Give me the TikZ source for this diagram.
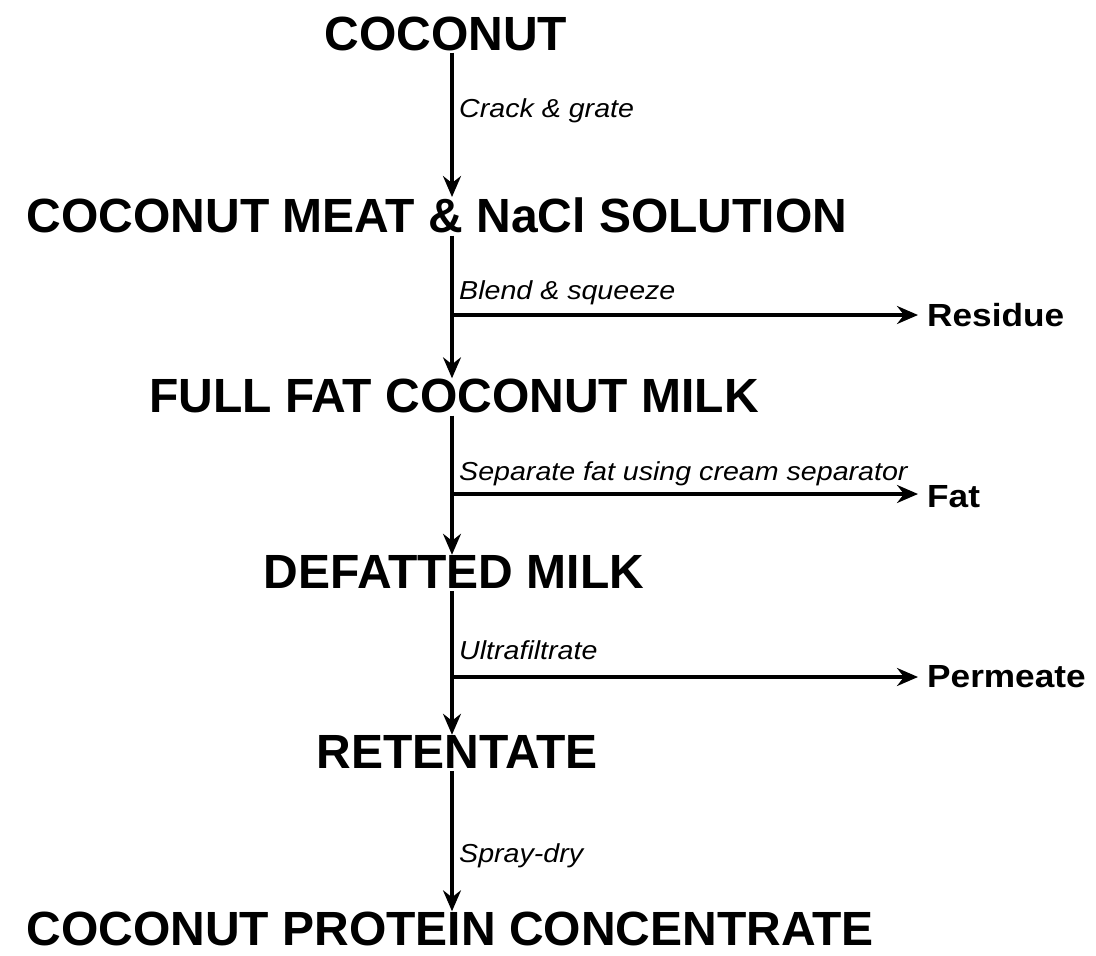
\documentclass[tikz,border=0pt]{standalone}
\usepackage{fontspec}
\setmainfont{Liberation Sans}
\newfontfamily\widefont[FakeStretch=1.1]{Liberation Sans}
\usetikzlibrary{arrows.meta, positioning}

\begin{document}
\begin{tikzpicture}[
  x=1pt, y=-1pt,
  node distance=3pt and 9pt,
  stage/.style={font={\fontsize{48}{50}\selectfont\bfseries}, inner sep=0pt, anchor=base},
  waste/.style={font={\widefont\fontsize{32}{34}\selectfont\bfseries}, inner sep=0pt},
  oper/.style={font={\widefont\fontsize{26}{28}\selectfont\itshape}, inner sep=0pt, anchor=base west},
  arr/.style={-{Stealth[length=21pt, width=18pt, inset=7pt]}, line width=3.2pt}
]
\useasboundingbox (0,0) rectangle (1096,956);

% spine of the chart
\coordinate (spine) at (452,0);

% Main stages, top to bottom
\node[stage] (coconut) at (446,50)  {COCONUT};
\node[stage] (meat)    at (437,232) {COCONUT MEAT \& NaCl SOLUTION};
\node[stage] (milk)    at (454,412) {FULL FAT COCONUT MILK};
\node[stage] (defat)   at (454,588) {DEFATTED MILK};
\node[stage] (retent)  at (457,768) {RETENTATE};
\node[stage] (cpc)     at (450,945) {COCONUT PROTEIN CONCENTRATE};

% Operations along the spine
\node[oper] (crack)  at (459,117) {Crack \& grate};
\node[oper] (blend)  at (459,299) {Blend \& squeeze};
\node[oper] (sep)    at (459,480) {Separate fat using cream separator};
\node[oper] (ultra)  at (459,659) {Ultrafiltrate};
\node[oper] (spray)  at (459,862) {Spray-dry};

% Side streams
\coordinate (br1) at (452,315);
\coordinate (br2) at (452,494);
\coordinate (br3) at (452,677);
\coordinate (end1) at (918,315);
\coordinate (end2) at (918,494);
\coordinate (end3) at (918,677);
\node[waste, right=of end1] (residue)  {Residue};
\node[waste, right=of end2, yshift=-3pt] (fat) {Fat};
\node[waste, right=of end3] (permeate) {Permeate};

% Spine arrows
\draw[arr] ([yshift=-2pt]coconut.south -| spine) -- (meat.north -| spine);
\draw[arr] ([yshift=-3pt]meat.south -| spine) -- (milk.north -| spine);
\draw[arr] ([yshift=-3pt]milk.south -| spine) -- (defat.north -| spine);
\draw[arr] ([yshift=-3pt]defat.south -| spine) -- (retent.north -| spine);
\draw[arr] ([yshift=-3pt]retent.south -| spine) -- (cpc.north -| spine);

% Branches off the spine
\draw[arr] (br1) -- (end1);
\draw[arr] (br2) -- (end2);
\draw[arr] (br3) -- (end3);

\end{tikzpicture}
\end{document}
